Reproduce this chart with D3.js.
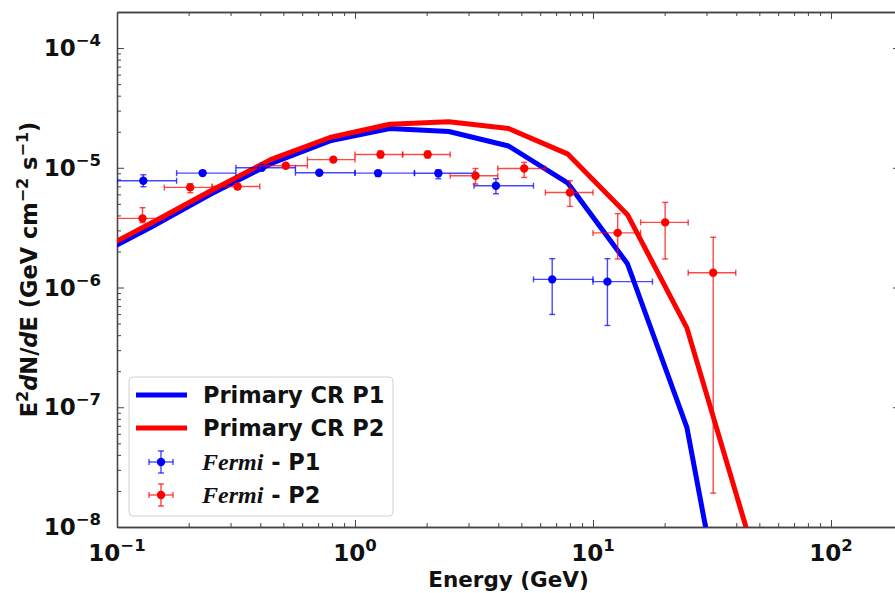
<!DOCTYPE html>
<html>
<head>
<meta charset="utf-8">
<script src="https://cdn.jsdelivr.net/npm/d3@7/dist/d3.min.js"></script>
<style>
  body { margin: 0; background: #fff; }
  svg { display: block; }
  text { font-family: "DejaVu Sans", sans-serif; font-weight: bold; fill: #111; }
</style>
</head>
<body>
<svg id="chart" width="895" height="593"></svg>
<script>
// Model curves: energy grid (GeV) and E^2 dN/dE (GeV cm^-2 s^-1)
const curveEnergy = [0.0785, 0.140, 0.248, 0.442, 0.785, 1.40, 2.48, 4.42, 7.85, 13.96, 24.8, 44.2];
const crP1 = [1.76e-6, 3.22e-6, 6.04e-6, 1.08e-5, 1.68e-5, 2.13e-5, 2.01e-5, 1.52e-5, 7.43e-6, 1.58e-6, 6.8e-8, 1.5e-10];
const crP2 = [1.90e-6, 3.48e-6, 6.43e-6, 1.17e-5, 1.79e-5, 2.31e-5, 2.42e-5, 2.13e-5, 1.30e-5, 4.06e-6, 4.6e-7, 9.6e-9];

// Fermi-LAT spectral points, P1
const p1Energy = [0.129, 0.229, 0.406, 0.708, 1.25, 2.24, 3.91, 6.74, 11.5];
const p1EMin   = [0.1, 0.178, 0.316, 0.562, 1.0, 1.778, 3.162, 5.623, 10.0];
const p1EMax   = [0.178, 0.316, 0.562, 1.0, 1.778, 3.162, 5.623, 10.0, 17.78];
const p1Flux   = [7.79e-6, 9.03e-6, 1.00e-5, 9.08e-6, 9.03e-6, 9.0e-6, 7.08e-6, 1.17e-6, 1.12e-6];
const p1Low    = [6.94e-6, 8.8e-6, 9.75e-6, 8.85e-6, 8.46e-6, 8.1e-6, 6.07e-6, 5.96e-7, 4.82e-7];
const p1High   = [8.74e-6, 9.3e-6, 1.03e-5, 9.3e-6, 9.44e-6, 9.6e-6, 8.1e-6, 1.74e-6, 1.74e-6];

// Fermi-LAT spectral points, P2
const p2Energy = [0.128, 0.203, 0.321, 0.512, 0.811, 1.28, 2.02, 3.21, 5.14, 8.0, 12.7, 20.1, 32.0];
const p2EMin   = [0.1, 0.158, 0.251, 0.398, 0.631, 1.0, 1.585, 2.512, 3.981, 6.31, 10.0, 15.85, 25.12];
const p2EMax   = [0.158, 0.251, 0.398, 0.631, 1.0, 1.585, 2.512, 3.981, 6.31, 10.0, 15.85, 25.12, 39.81];
const p2Flux   = [3.78e-6, 6.86e-6, 6.98e-6, 1.04e-5, 1.17e-5, 1.29e-5, 1.29e-5, 8.58e-6, 9.87e-6, 6.22e-6, 2.86e-6, 3.50e-6, 1.33e-6];
const p2Low    = [3.48e-6, 6.19e-6, 6.6e-6, 1.01e-5, 1.13e-5, 1.21e-5, 1.21e-5, 7.31e-6, 8.3e-6, 4.76e-6, 1.73e-6, 1.73e-6, 1.92e-8];
const p2High   = [4.64e-6, 7.36e-6, 7.3e-6, 1.07e-5, 1.21e-5, 1.38e-5, 1.38e-5, 9.87e-6, 1.11e-5, 7.79e-6, 4.14e-6, 5.14e-6, 2.63e-6];

// Axis ticks and labels
const xMajorTicks = [0.1, 1, 10, 100];
const xTickExp    = ["\u22121", "0", "1", "2"];
const yMajorTicks = [1e-8, 1e-7, 1e-6, 1e-5, 1e-4];
const yTickExp    = ["\u22128", "\u22127", "\u22126", "\u22125", "\u22124"];

const legendLabels = ["Primary CR P1", "Primary CR P2", "P1", "P2"];
const BLUE = "#0000ff", RED = "#ff0000";

const svg = d3.select("#chart");
const frame = { left: 117, right: 900, top: 12, bottom: 527 };

const x = d3.scaleLog().domain([0.1, 195]).range([frame.left, frame.right]);
const y = d3.scaleLog().domain([1e-8, 2e-4]).range([frame.bottom, frame.top]);

svg.append("rect").attr("width", 895).attr("height", 593).attr("fill", "#fff");

svg.append("clipPath").attr("id", "plotclip")
  .append("rect")
  .attr("x", frame.left).attr("y", frame.top)
  .attr("width", frame.right - frame.left).attr("height", frame.bottom - frame.top);

const xMinor = x.ticks().filter(v => !xMajorTicks.some(m => Math.abs(m - v) / m < 1e-9));
const yMinor = y.ticks().filter(v => !yMajorTicks.some(m => Math.abs(m - v) / m < 1e-9));

const axisColor = "#444";
function styleAxis(g) {
  g.selectAll("path.domain").attr("stroke", axisColor).attr("stroke-width", 1.3);
  g.selectAll(".tick line").attr("stroke", axisColor).attr("stroke-width", 1);
  g.selectAll(".tick text").remove();
}
function addAxis(gen, transform, values, size) {
  svg.append("g").attr("transform", transform)
    .call(gen.tickValues(values).tickSizeInner(-size).tickSizeOuter(0).tickFormat(""))
    .call(styleAxis);
}
// inward ticks on all four sides
addAxis(d3.axisBottom(x), `translate(0,${frame.bottom})`, xMinor, 4);
addAxis(d3.axisBottom(x), `translate(0,${frame.bottom})`, xMajorTicks, 7);
addAxis(d3.axisTop(x), `translate(0,${frame.top})`, xMinor, 4);
addAxis(d3.axisTop(x), `translate(0,${frame.top})`, xMajorTicks, 7);
addAxis(d3.axisLeft(y), `translate(${frame.left},0)`, yMinor, 4);
addAxis(d3.axisLeft(y), `translate(${frame.left},0)`, yMajorTicks, 7);
addAxis(d3.axisRight(y), `translate(${frame.right},0)`, yMinor, 4);
addAxis(d3.axisRight(y), `translate(${frame.right},0)`, yMajorTicks, 7);

// tick labels as 10^n
function powerLabel(sel, exp) {
  sel.append("tspan").attr("font-size", 23).text("10");
  sel.append("tspan").attr("font-size", 16.5).attr("dy", -10).text(exp);
}
xMajorTicks.forEach((v, i) => {
  const t = svg.append("text").attr("x", x(v)).attr("y", 561).attr("text-anchor", "middle");
  powerLabel(t, xTickExp[i]);
});
yMajorTicks.forEach((v, i) => {
  const t = svg.append("text").attr("x", 101).attr("y", y(v) + 8).attr("text-anchor", "end");
  powerLabel(t, yTickExp[i]);
});

// axis titles
svg.append("text").attr("x", (frame.left + frame.right) / 2).attr("y", 587)
  .attr("text-anchor", "middle").attr("font-size", 21.5).text("Energy (GeV)");

const yTitle = svg.append("text")
  .attr("transform", `translate(37,${(frame.top + frame.bottom) / 2}) rotate(-90)`)
  .attr("text-anchor", "middle").attr("font-size", 22.5);
yTitle.append("tspan").text("E");
yTitle.append("tspan").attr("font-size", 16).attr("dy", -9).text("2");
yTitle.append("tspan").attr("dy", 9).attr("font-style", "italic").text("d");
yTitle.append("tspan").text("N/");
yTitle.append("tspan").attr("font-style", "italic").text("d");
yTitle.append("tspan").text("E (GeV cm");
yTitle.append("tspan").attr("font-size", 16).attr("dy", -9).text("\u22122");
yTitle.append("tspan").attr("dy", 9).text(" s");
yTitle.append("tspan").attr("font-size", 16).attr("dy", -9).text("\u22121");
yTitle.append("tspan").attr("dy", 9).text(")");

// model curves
const plot = svg.append("g").attr("clip-path", "url(#plotclip)");
const line = d3.line().x(d => x(d[0])).y(d => y(d[1]));
[[crP1, BLUE], [crP2, RED]].forEach(([vals, col]) => {
  plot.append("path")
    .datum(curveEnergy.map((e, i) => [e, vals[i]]))
    .attr("d", line)
    .attr("fill", "none").attr("stroke", col).attr("stroke-width", 5)
    .attr("stroke-linejoin", "round");
});

// error-bar points
function drawPoints(E, Emin, Emax, F, Flo, Fhi, col) {
  const g = plot.append("g");
  const cap = 3;
  E.forEach((e, i) => {
    const cx = x(e), cy = y(F[i]);
    const x0 = x(Emin[i]), x1 = x(Emax[i]);
    const y0 = y(Flo[i]), y1 = y(Fhi[i]);
    const eb = g.append("g").attr("stroke", col).attr("stroke-width", 1.4).attr("stroke-opacity", 0.72);
    eb.append("line").attr("x1", x0).attr("x2", x1).attr("y1", cy).attr("y2", cy);
    eb.append("line").attr("x1", cx).attr("x2", cx).attr("y1", y0).attr("y2", y1);
    eb.append("line").attr("x1", x0).attr("x2", x0).attr("y1", cy - cap).attr("y2", cy + cap);
    eb.append("line").attr("x1", x1).attr("x2", x1).attr("y1", cy - cap).attr("y2", cy + cap);
    eb.append("line").attr("x1", cx - cap).attr("x2", cx + cap).attr("y1", y0).attr("y2", y0);
    eb.append("line").attr("x1", cx - cap).attr("x2", cx + cap).attr("y1", y1).attr("y2", y1);
    g.append("circle").attr("cx", cx).attr("cy", cy).attr("r", 4.2).attr("fill", col);
  });
}
drawPoints(p1Energy, p1EMin, p1EMax, p1Flux, p1Low, p1High, BLUE);
drawPoints(p2Energy, p2EMin, p2EMax, p2Flux, p2Low, p2High, RED);

// legend
const lg = svg.append("g");
lg.append("rect").attr("x", 129).attr("y", 377).attr("width", 264).attr("height", 139)
  .attr("rx", 4).attr("fill", "#fff").attr("fill-opacity", 0.85)
  .attr("stroke", "#d0d0d0").attr("stroke-width", 1);
const rowY = [395, 428, 462, 495];
[[BLUE, 0], [RED, 1]].forEach(([col, i]) => {
  lg.append("line").attr("x1", 136).attr("x2", 187).attr("y1", rowY[i]).attr("y2", rowY[i])
    .attr("stroke", col).attr("stroke-width", 5);
  lg.append("text").attr("x", 203).attr("y", rowY[i] + 8).attr("font-size", 22.5).text(legendLabels[i]);
});
[[BLUE, 2], [RED, 3]].forEach(([col, i]) => {
  const cy = rowY[i], cx = 161;
  const eb = lg.append("g").attr("stroke", col).attr("stroke-width", 1.4).attr("stroke-opacity", 0.72);
  eb.append("line").attr("x1", cx - 12).attr("x2", cx + 12).attr("y1", cy).attr("y2", cy);
  eb.append("line").attr("x1", cx).attr("x2", cx).attr("y1", cy - 11).attr("y2", cy + 11);
  eb.append("line").attr("x1", cx - 12).attr("x2", cx - 12).attr("y1", cy - 3).attr("y2", cy + 3);
  eb.append("line").attr("x1", cx + 12).attr("x2", cx + 12).attr("y1", cy - 3).attr("y2", cy + 3);
  eb.append("line").attr("x1", cx - 3).attr("x2", cx + 3).attr("y1", cy - 11).attr("y2", cy - 11);
  eb.append("line").attr("x1", cx - 3).attr("x2", cx + 3).attr("y1", cy + 11).attr("y2", cy + 11);
  lg.append("circle").attr("cx", cx).attr("cy", cy).attr("r", 4.2).attr("fill", col);
  const t = lg.append("text").attr("x", 202).attr("y", cy + 8).attr("font-size", 22.5);
  t.append("tspan").attr("font-family", "'Liberation Serif', serif").attr("font-style", "italic")
    .attr("font-size", 24).text("Fermi");
  t.append("tspan").text(" - " + legendLabels[i]);
});
</script>
</body>
</html>
